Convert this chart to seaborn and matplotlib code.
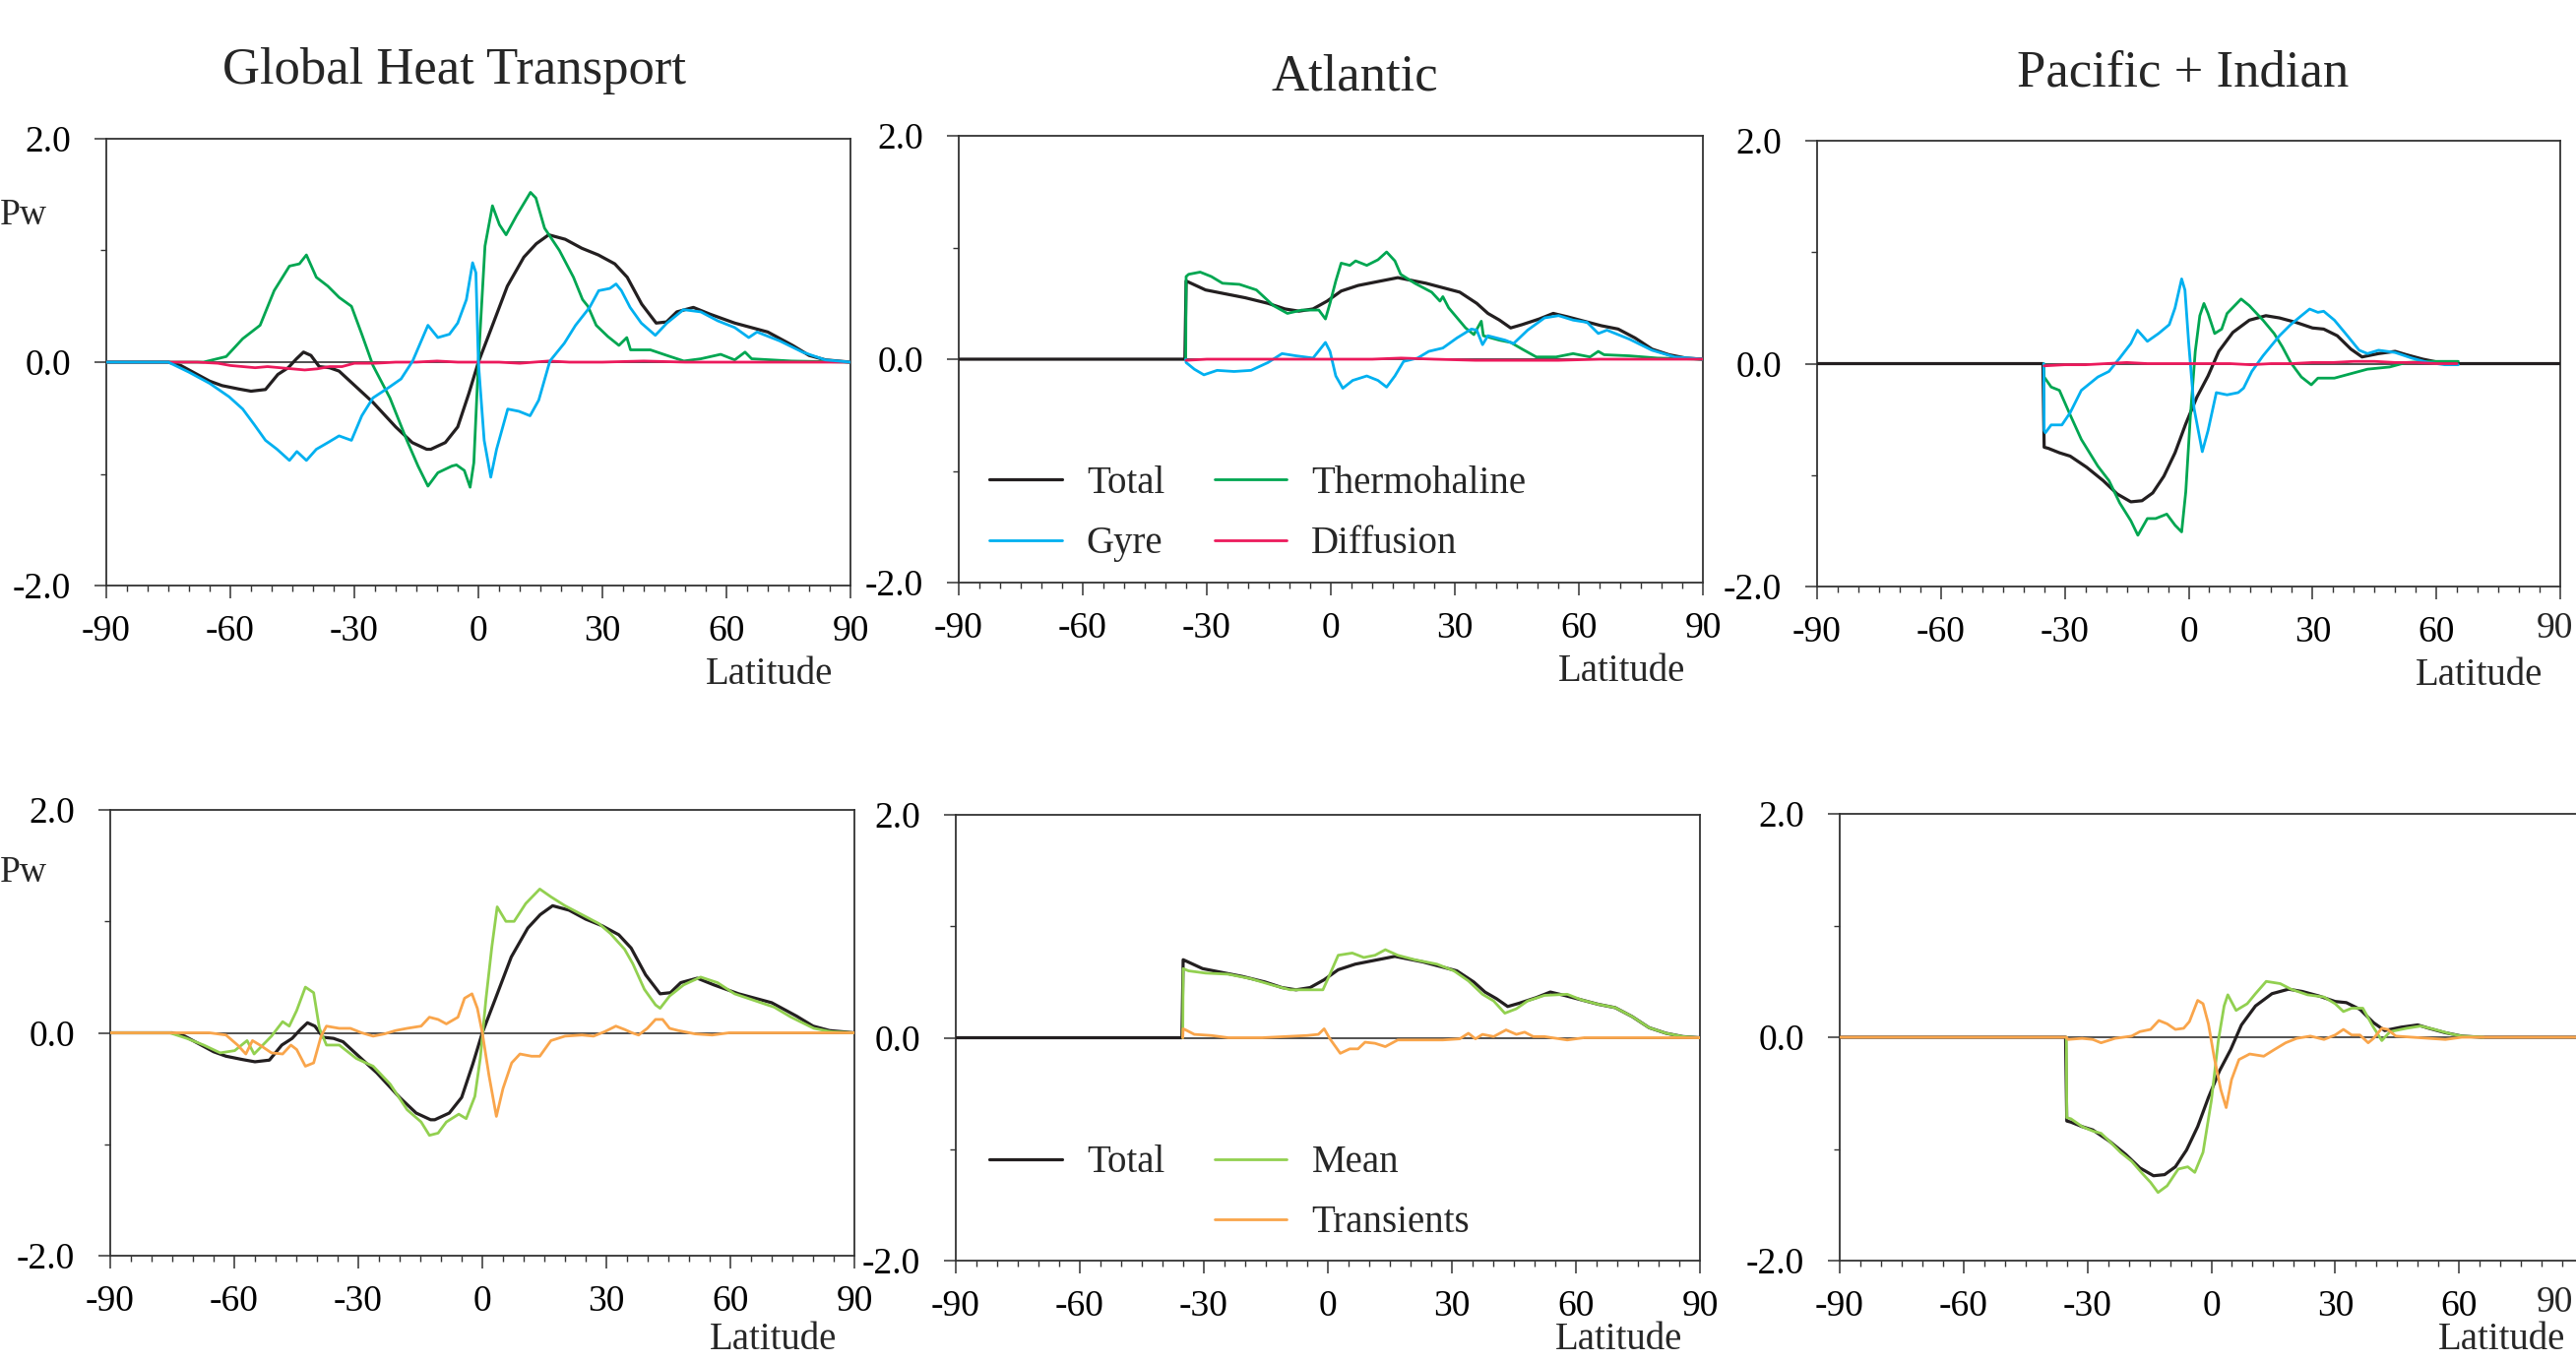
import numpy as np
import pandas as pd
import matplotlib
matplotlib.use('Agg')
import matplotlib.pyplot as plt
import seaborn as sns
from matplotlib.lines import Line2D
from matplotlib.ticker import MultipleLocator

# ---------------- data (PW vs latitude) ----------------
# Global: Total
gt_lat = [-90, -75, -72, -69, -65, -62, -58, -55, -51.5, -48.5, -46, -44, -42.3, -40.5, -38.5, -36, -33.7,
          -29.6, -25.5, -20, -16, -12.5, -11.5, -8, -5, -2.3, 0, 3, 7, 11, 14, 17, 21, 25, 29, 33, 36, 39.5,
          43, 45.5, 48, 52, 56, 62, 66, 70, 76, 80, 84, 90]
gt_val = [0, 0, -0.03, -0.09, -0.17, -0.21, -0.24, -0.26, -0.245, -0.11, -0.05, 0.03, 0.09, 0.06, -0.04,
          -0.05, -0.08, -0.22, -0.36, -0.58, -0.72, -0.78, -0.78, -0.72, -0.58, -0.28, 0, 0.29, 0.68, 0.94,
          1.06, 1.14, 1.10, 1.02, 0.96, 0.88, 0.76, 0.52, 0.35, 0.36, 0.45, 0.49, 0.43, 0.35, 0.31, 0.27,
          0.15, 0.06, 0.02, 0]
# Global: Gyre
gg_lat = [-90, -75, -70, -65, -60.3, -57, -54.2, -51.5, -48.7, -45.7, -43.9, -41.6, -39.2, -36.4, -33.7,
          -30.7, -28.2, -25.5, -21.4, -18.7, -15.9, -12.2, -9.8, -7, -5, -2.9, -1.4, -0.6, 0, 1.4, 3, 4.4,
          7.1, 9.8, 12.5, 14.6, 17.3, 20.8, 23.5, 26.9, 29.1, 31.8, 33.3, 34.6, 36.7, 39.4, 42.8, 45.6,
          49.6, 53.8, 57.9, 62, 65.4, 67.4, 72.9, 78.4, 83.9, 90]
gg_val = [0, 0, -0.09, -0.19, -0.31, -0.42, -0.56, -0.70, -0.78, -0.88, -0.80, -0.88, -0.78, -0.72, -0.66,
          -0.70, -0.48, -0.32, -0.22, -0.15, 0.01, 0.33, 0.22, 0.25, 0.35, 0.56, 0.89, 0.80, 0.0, -0.70,
          -1.03, -0.78, -0.42, -0.44, -0.48, -0.34, 0.01, 0.17, 0.33, 0.49, 0.64, 0.66, 0.70, 0.64, 0.49,
          0.35, 0.24, 0.35, 0.47, 0.45, 0.37, 0.31, 0.22, 0.27, 0.19, 0.09, 0.02, 0]
# Global: Thermohaline
gth_lat = [-90, -66.5, -61, -57, -52.8, -49.4, -45.7, -43.3, -41.6, -39.2, -36.4, -33.7, -30.7, -28.2,
           -25.5, -21.4, -17.3, -14.6, -12.2, -9.8, -6.4, -5.3, -3.4, -2, -1.1, 0, 1.6, 3.4, 5.1, 6.7, 9.2,
           12.6, 13.9, 16, 19.6, 23, 25.2, 26.5, 28.5, 31.3, 34, 35.9, 36.8, 41.6, 45.6, 49.7, 53.8, 58.6,
           62, 64.5, 66.1, 75.7, 90]
gth_val = [0, 0, 0.05, 0.21, 0.33, 0.64, 0.86, 0.88, 0.96, 0.76, 0.68, 0.58, 0.50, 0.25, -0.03, -0.32,
           -0.70, -0.93, -1.11, -0.99, -0.93, -0.92, -0.97, -1.12, -0.90, 0.0, 1.04, 1.40, 1.23, 1.14, 1.31,
           1.52, 1.47, 1.20, 1.00, 0.76, 0.56, 0.50, 0.33, 0.23, 0.15, 0.22, 0.11, 0.11, 0.06, 0.01, 0.03,
           0.07, 0.02, 0.09, 0.03, 0.01, 0]
# Global: Diffusion
gd_lat = [-90, -75, -68, -63, -60, -57, -54, -51, -48, -45, -42, -39, -36, -33, -30, -25, -20, -15, -10,
          -5, 0, 5, 10, 17, 22, 30, 40, 50, 60, 70, 80, 90]
gd_val = [0, 0, 0.0, -0.01, -0.03, -0.04, -0.05, -0.04, -0.05, -0.06, -0.07, -0.06, -0.04, -0.04, -0.01,
          -0.01, 0.0, 0.0, 0.01, 0.0, 0.0, 0.0, -0.01, 0.01, 0.0, 0.0, 0.01, 0.0, 0.0, 0.0, 0.0, 0]

# Atlantic: Total
at_lat = [-90, -35.3, -35.0, -34.4, -30.3, -26.2, -20.7, -15.2, -11.1, -7.7, -4.3, -0.9, 2.5, 6.6, 10.7,
          16.2, 18.9, 23, 27.1, 31.2, 35.3, 38, 40.8, 43.5, 46.3, 50.4, 53.8, 57.2, 61.3, 65.4, 69.5, 73.6,
          77.7, 81.8, 85.9, 90]
at_val = [0, 0, 0.70, 0.69, 0.62, 0.59, 0.55, 0.50, 0.45, 0.43, 0.45, 0.52, 0.61, 0.66, 0.69, 0.73, 0.71,
          0.68, 0.64, 0.60, 0.50, 0.41, 0.35, 0.28, 0.31, 0.36, 0.41, 0.38, 0.34, 0.30, 0.27, 0.19, 0.09,
          0.04, 0.01, 0]
# Atlantic: Thermohaline
ath_lat = [-35.1, -35.0, -34.4, -31.6, -28.9, -26.2, -22.1, -18, -13.9, -10.5, -7, -2.9, -1.3, -0.2, 1.2,
           2.5, 4.6, 6, 8.7, 11.4, 13.5, 15.5, 16.9, 20.3, 24.4, 26.4, 27.1, 28.5, 32.6, 34.6, 36.4, 36.9,
           40.8, 43.5, 46.3, 49.7, 54.5, 58.6, 62.7, 64.7, 66.1, 72.2, 79, 90]
ath_val = [0.0, 0.74, 0.76, 0.78, 0.74, 0.68, 0.67, 0.62, 0.48, 0.41, 0.44, 0.44, 0.36, 0.50, 0.70, 0.86,
           0.84, 0.88, 0.84, 0.89, 0.96, 0.88, 0.76, 0.68, 0.60, 0.52, 0.56, 0.46, 0.28, 0.22, 0.34, 0.21,
           0.17, 0.15, 0.09, 0.02, 0.02, 0.05, 0.02, 0.07, 0.04, 0.03, 0.01, 0]
# Atlantic: Gyre
ag_lat = [-35.1, -35.0, -33, -30.7, -27.5, -23.4, -19.3, -15.2, -11.8, -8.4, -4.3, -1.3, -0.2, 1.2, 2.9,
          5.3, 8.7, 11.4, 13.5, 15.5, 17.6, 21, 23.7, 27.1, 30.5, 34, 35.3, 36.7, 38, 42.2, 44.2, 47.6,
          51.7, 55.1, 58.6, 62, 64.7, 66.8, 72.2, 77.7, 83.2, 90]
ag_val = [0, -0.03, -0.09, -0.14, -0.10, -0.11, -0.10, -0.03, 0.05, 0.03, 0.01, 0.15, 0.07, -0.15, -0.26,
          -0.19, -0.15, -0.19, -0.25, -0.15, -0.02, 0.01, 0.07, 0.10, 0.19, 0.27, 0.26, 0.13, 0.21, 0.17,
          0.14, 0.26, 0.37, 0.39, 0.35, 0.33, 0.23, 0.26, 0.18, 0.08, 0.02, 0]
# Atlantic: Diffusion
ad_lat = [-35, -30, -20, -10, 0, 10, 17, 25, 35, 45, 55, 65, 80, 90]
ad_val = [-0.01, 0.0, 0.0, 0.0, 0.0, 0.0, 0.01, 0.0, -0.01, -0.01, -0.01, 0.0, 0.0, 0]

# Pacific + Indian: Total
pt_lat = [-90, -35.3, -35.0, -34, -31.3, -28.7, -24.7, -20.7, -17.3, -14, -11.3, -8.7, -6, -3.3, -0.7, 2,
          4.7, 7.3, 10.7, 14.7, 18.7, 22, 26, 30, 32.7, 36, 39.3, 42, 46, 50, 52.7, 56.7, 60.7, 65.3, 90]
pt_val = [0, 0, -0.75, -0.76, -0.80, -0.83, -0.93, -1.05, -1.17, -1.24, -1.23, -1.16, -1.01, -0.80, -0.54,
          -0.30, -0.11, 0.11, 0.28, 0.39, 0.43, 0.41, 0.37, 0.32, 0.31, 0.25, 0.13, 0.06, 0.09, 0.11, 0.08,
          0.04, 0.01, 0.0, 0]
# Pacific + Indian: Gyre
pg_lat = [-35.1, -35.0, -34.7, -33.3, -30.7, -28.7, -26, -22, -19.3, -16.7, -14, -12.4, -10, -7.3, -4.7,
          -3.3, -1.7, -0.9, 0, 1.3, 3.3, 4.7, 6.7, 9.3, 12, 13.3, 15.3, 18, 22, 24.7, 27.3, 29.3, 31.3,
          32.7, 35.3, 38, 41.3, 43.3, 46, 50, 54, 58, 62, 65.3]
pg_val = [0, -0.60, -0.62, -0.55, -0.55, -0.44, -0.24, -0.12, -0.07, 0.05, 0.18, 0.30, 0.20, 0.27, 0.35,
          0.50, 0.76, 0.66, 0.19, -0.40, -0.79, -0.60, -0.26, -0.28, -0.26, -0.22, -0.07, 0.07, 0.25, 0.35,
          0.43, 0.49, 0.46, 0.47, 0.39, 0.27, 0.12, 0.09, 0.12, 0.10, 0.05, 0.01, -0.01, -0.01]
# Pacific + Indian: Thermohaline
pth_lat = [-35.1, -35.0, -33.3, -31.3, -28.7, -26, -22, -19.3, -16.7, -14, -12.3, -10, -8, -5.3, -3.3,
           -1.7, -0.7, 0.4, 1.6, 2.7, 3.7, 4.7, 6.3, 8, 9.3, 12.7, 14.7, 18, 20.7, 22.7, 24.7, 27.3, 29.7,
           31.3, 35.3, 39.3, 43.3, 48.7, 52.7, 58, 65.3]
pth_val = [0, -0.12, -0.21, -0.24, -0.46, -0.68, -0.92, -1.05, -1.25, -1.41, -1.54, -1.39, -1.39, -1.35,
           -1.45, -1.51, -1.15, -0.48, 0.11, 0.43, 0.54, 0.45, 0.27, 0.31, 0.45, 0.58, 0.52, 0.39, 0.27,
           0.15, 0.01, -0.12, -0.19, -0.13, -0.13, -0.09, -0.05, -0.03, 0.01, 0.02, 0.02]
# Pacific + Indian: Diffusion
pd_lat = [-35, -30, -25, -20, -15, -10, -5, 0, 5, 10, 15, 20, 25, 30, 35, 40, 45, 50, 55, 60, 65]
pd_val = [-0.02, -0.01, -0.01, 0.0, 0.01, 0.0, 0.0, 0.0, 0.0, 0.0, -0.01, 0.0, 0.0, 0.01, 0.01, 0.02,
          0.02, 0.01, 0.01, 0.0, 0.0]

# Global: Mean / Transients
gm_lat = [-90, -75.6, -71.5, -67.4, -63.4, -59.9, -56.9, -55.2, -53.1, -51, -48.3, -46.7, -44.9, -42.8,
          -40.8, -39.4, -37.7, -34.6, -30.5, -26.4, -22.3, -18.2, -14.8, -12.8, -10.7, -8.7, -5.7, -3.9,
          -1.8, -0.5, 0.9, 2.3, 3.6, 5.7, 7.7, 10.5, 13.9, 16.6, 20, 24.1, 28.2, 31, 34.4, 36.4, 39.2,
          41.9, 43, 45.3, 48.7, 52.8, 56.9, 61, 65.8, 70.6, 74.7, 80.2, 84.3, 90]
gm_val = [0, 0, -0.05, -0.11, -0.18, -0.16, -0.07, -0.19, -0.11, -0.03, 0.10, 0.06, 0.20, 0.41, 0.36,
          0.04, -0.11, -0.11, -0.23, -0.30, -0.46, -0.69, -0.80, -0.92, -0.90, -0.80, -0.73, -0.77, -0.57,
          -0.23, 0.31, 0.77, 1.13, 1.00, 1.00, 1.16, 1.29, 1.22, 1.14, 1.06, 0.98, 0.89, 0.75, 0.62, 0.39,
          0.25, 0.22, 0.33, 0.43, 0.50, 0.45, 0.35, 0.29, 0.23, 0.14, 0.04, 0.01, 0]
gtr_lat = [-90, -66, -62, -59.2, -57.2, -55.6, -53.8, -51, -48.3, -46.3, -44.9, -42.8, -40.8, -39, -37.7,
           -34.6, -31.9, -29.2, -26.4, -23.7, -21, -18.2, -14.8, -12.8, -10.7, -8.7, -5.9, -4.3, -2.5,
           -1.2, 0, 1.6, 3.4, 5, 7.1, 9.1, 11.9, 13.9, 16.6, 20, 24.1, 26.9, 29.6, 32.3, 34.4, 36.2, 37.8,
           39.9, 41.9, 43.6, 45.3, 47.4, 51.5, 55.6, 59.7, 90]
gtr_val = [0, 0, -0.02, -0.11, -0.19, -0.07, -0.11, -0.18, -0.19, -0.11, -0.15, -0.30, -0.27, -0.03, 0.06,
           0.04, 0.04, 0.0, -0.03, -0.01, 0.02, 0.04, 0.06, 0.14, 0.12, 0.08, 0.14, 0.31, 0.35, 0.22, 0.0,
           -0.38, -0.75, -0.50, -0.27, -0.19, -0.21, -0.21, -0.07, -0.03, -0.02, -0.03, 0.01, 0.06, 0.03,
           0.0, -0.02, 0.04, 0.12, 0.12, 0.04, 0.02, -0.01, -0.02, 0.0, 0]

# Atlantic: Mean / Transients
am_lat = [-35.1, -35.0, -33.7, -29.6, -24.1, -18.7, -13.2, -9.1, -5, -1.2, 0.5, 2.5, 5.9, 8.7, 11.4, 13.9,
          16.9, 21, 26.4, 30.5, 34, 37.4, 40.1, 42.8, 45.6, 48.3, 52.4, 57.9, 61.3, 65.4, 69.5, 73.6, 77.7,
          81.8, 85.9, 90]
am_val = [0, 0.62, 0.60, 0.58, 0.57, 0.53, 0.47, 0.43, 0.43, 0.43, 0.57, 0.74, 0.76, 0.72, 0.74, 0.79,
          0.74, 0.70, 0.66, 0.60, 0.51, 0.39, 0.33, 0.22, 0.26, 0.33, 0.38, 0.39, 0.34, 0.30, 0.27, 0.19,
          0.09, 0.04, 0.01, 0]
atr_lat = [-35.1, -35.0, -34.4, -32.3, -28.2, -24.1, -15.9, -5, -2.3, -0.9, 0.5, 3, 5.3, 7.3, 9, 11.4,
           13.9, 16.9, 22.3, 27.8, 31.9, 34, 35.7, 37.4, 40.1, 43.1, 45.6, 47.6, 49.7, 52.4, 57.9, 62, 90]
atr_val = [0, 0.08, 0.07, 0.03, 0.02, 0.0, 0.0, 0.02, 0.03, 0.08, -0.01, -0.14, -0.10, -0.10, -0.04,
           -0.05, -0.08, -0.02, -0.02, -0.02, -0.01, 0.04, -0.01, 0.03, 0.01, 0.07, 0.03, 0.05, 0.01, 0.01,
           -0.02, 0.0, 0]

# Pacific + Indian: Mean / Transients
pm_lat = [-35.1, -35.0, -34, -31.3, -28.7, -26.7, -24.7, -22, -19.3, -16.7, -14.7, -12.9, -10.7, -8, -5.7,
          -4, -2, 0, 1.7, 3.1, 4, 6, 8.7, 10.7, 13.3, 16.7, 19.3, 23.3, 27.3, 30, 32, 34, 36.7, 39.1, 41.3,
          43.3, 47.3, 50.7, 54, 58, 60.7, 66]
pm_val = [0, -0.72, -0.73, -0.80, -0.84, -0.86, -0.93, -1.03, -1.11, -1.22, -1.30, -1.39, -1.33, -1.18,
          -1.16, -1.21, -1.03, -0.57, -0.03, 0.28, 0.38, 0.24, 0.30, 0.39, 0.50, 0.48, 0.43, 0.38, 0.36,
          0.30, 0.23, 0.26, 0.26, 0.10, -0.03, 0.05, 0.08, 0.10, 0.07, 0.03, 0.01, 0.0]
ptr_lat = [-90, -35.1, -34.7, -31.3, -28.7, -26.7, -23.3, -19.3, -17.3, -14.7, -12.7, -10.7, -8.7, -6.7,
           -5.3, -3.3, -2, -0.7, 0.7, 2.3, 3.6, 4.9, 6.7, 9.3, 12.7, 15.3, 18, 20.7, 24, 27.3, 30, 32, 34,
           36, 38, 39.3, 41.3, 42.7, 44.7, 48.7, 52.7, 56.7, 60.7, 90]
ptr_val = [0, 0, -0.02, -0.01, -0.02, -0.05, -0.01, 0.01, 0.05, 0.07, 0.15, 0.12, 0.07, 0.08, 0.14, 0.33,
           0.30, 0.12, -0.18, -0.47, -0.63, -0.38, -0.20, -0.15, -0.17, -0.11, -0.05, -0.01, 0.01, -0.02,
           0.02, 0.07, 0.02, 0.02, -0.05, -0.01, 0.08, 0.07, 0.01, 0.0, -0.01, -0.02, 0.0, 0]

titles = ['Global Heat Transport', 'Atlantic', 'Pacific + Indian']
x_ticks = [-90, -60, -30, 0, 30, 60, 90]
x_ticklabels = ['-90', '-60', '-30', '0', '30', '60', '90']
y_ticks = [-2, 0, 2]
y_ticklabels = ['-2.0', '0.0', '2.0']

# ---------------- styling ----------------
C_TOTAL = '#231f20'
C_THERMO = '#00a651'
C_GYRE = '#00b0f0'
C_DIFF = '#ec1a5c'
C_MEAN = '#92d050'
C_TRANS = '#f9a54b'

sns.set_style('ticks')
plt.rcParams['font.family'] = ['Liberation Serif', 'DejaVu Serif']

W, H = 2617, 1383
fig = plt.figure(figsize=(W / 100, H / 100), dpi=100)


def add_axes(l, t, r, b):
    return fig.add_axes([l / W, 1 - b / H, (r - l) / W, (b - t) / H])


def draw(ax, lat, val, color, lw, z):
    df = pd.DataFrame({'lat': lat, 'val': val})
    sns.lineplot(data=df, x='lat', y='val', ax=ax, color=color, lw=lw,
                 estimator=None, sort=False, zorder=z)


def style(ax, bottom_row=False, edge_label=False):
    ax.set_xlim(-90, 90)
    ax.set_ylim(-2, 2)
    ax.set_xticks(x_ticks)
    labels = list(x_ticklabels)
    if edge_label:
        labels[-1] = ''
    ax.set_xticklabels(labels)
    ax.xaxis.set_minor_locator(MultipleLocator(5))
    ax.set_yticks(y_ticks)
    ax.set_yticklabels(y_ticklabels)
    ax.yaxis.set_minor_locator(MultipleLocator(1))
    ax.tick_params(which='major', direction='out', length=9, width=1.1,
                   labelsize=27, color='#333333', labelcolor='black')
    ax.tick_params(axis='x', which='major', pad=12)
    ax.tick_params(axis='y', which='major', pad=17)
    ax.tick_params(which='minor', direction='out', length=4.3, width=1.0, color='#333333')
    ax.set_xlabel('')
    ax.set_ylabel('')
    for s in ax.spines.values():
        s.set_visible(True)
        s.set_color('#333333')
        s.set_linewidth(1.3)
    ax.axhline(0, color='#333333', lw=1.2, zorder=1)
    pos = ax.get_position()
    if edge_label:
        # last tick label moved just inside the figure edge
        fig.text(0.999, pos.y0 - 43 / H, x_ticklabels[-1], ha='right', va='center', fontsize=27)
    if bottom_row:
        fig.text(pos.x0 + 0.977 * pos.width, 3 / H, 'Latitude', ha='right', va='bottom', fontsize=28)
    else:
        ax.text(0.977, -0.2, 'Latitude', transform=ax.transAxes, ha='right',
                va='center', fontsize=28)


ax1 = add_axes(108, 141, 864, 595)
ax2 = add_axes(974, 138, 1730, 592)
ax3 = add_axes(1846, 143, 2601, 596)
ax4 = add_axes(112, 823, 868, 1276)
ax5 = add_axes(971, 828, 1727, 1281)
ax6 = add_axes(1869, 827, 2624, 1281)

LW_K, LW_C = 2.3, 2.0

# top row
draw(ax1, gt_lat, gt_val, C_TOTAL, LW_K, 3)
draw(ax1, gth_lat, gth_val, C_THERMO, LW_C, 4)
draw(ax1, gd_lat, gd_val, C_DIFF, LW_C, 5)
draw(ax1, gg_lat, gg_val, C_GYRE, LW_C, 6)

draw(ax2, at_lat, at_val, C_TOTAL, LW_K, 3)
draw(ax2, ath_lat, ath_val, C_THERMO, LW_C, 4)
draw(ax2, ag_lat, ag_val, C_GYRE, LW_C, 5)
draw(ax2, ad_lat, ad_val, C_DIFF, LW_C, 6)

draw(ax3, pt_lat, pt_val, C_TOTAL, LW_K, 3)
draw(ax3, pth_lat, pth_val, C_THERMO, LW_C, 4)
draw(ax3, pg_lat, pg_val, C_GYRE, LW_C, 5)
draw(ax3, pd_lat, pd_val, C_DIFF, LW_C, 6)

# bottom row
draw(ax4, gt_lat, gt_val, C_TOTAL, LW_K, 3)
draw(ax4, gm_lat, gm_val, C_MEAN, LW_C, 4)
draw(ax4, gtr_lat, gtr_val, C_TRANS, LW_C, 5)

draw(ax5, at_lat, at_val, C_TOTAL, LW_K, 3)
draw(ax5, am_lat, am_val, C_MEAN, LW_C, 4)
draw(ax5, atr_lat, atr_val, C_TRANS, LW_C, 5)

draw(ax6, pt_lat, pt_val, C_TOTAL, LW_K, 3)
draw(ax6, pm_lat, pm_val, C_MEAN, LW_C, 4)
draw(ax6, ptr_lat, ptr_val, C_TRANS, LW_C, 5)

style(ax1)
style(ax2)
style(ax3, edge_label=True)
style(ax4, bottom_row=True)
style(ax5, bottom_row=True)
style(ax6, bottom_row=True, edge_label=True)

# legends
leg_kw = dict(ncol=2, loc='upper left', frameon=False, fontsize=28, handlelength=1.9,
              handletextpad=0.64, columnspacing=1.3, labelspacing=0.62,
              borderaxespad=0, borderpad=0)
h2 = [Line2D([], [], color=C_TOTAL, lw=LW_K), Line2D([], [], color=C_GYRE, lw=LW_C),
      Line2D([], [], color=C_THERMO, lw=LW_C), Line2D([], [], color=C_DIFF, lw=LW_C)]
ax2.legend(h2, ['Total', 'Gyre', 'Thermohaline', 'Diffusion'],
           bbox_to_anchor=(0.041, 0.262), **leg_kw)
h5 = [Line2D([], [], color=C_TOTAL, lw=LW_K), Line2D([], [], color='none', lw=0),
      Line2D([], [], color=C_MEAN, lw=LW_C), Line2D([], [], color=C_TRANS, lw=LW_C)]
ax5.legend(h5, ['Total', '', 'Mean', 'Transients'],
           bbox_to_anchor=(0.045, 0.26), **leg_kw)

# titles and unit labels
fig.text(461 / W, 1 - 85 / H, titles[0], ha='center', va='baseline', fontsize=38)
fig.text(1376 / W, 1 - 92 / H, titles[1], ha='center', va='baseline', fontsize=38)
fig.text(2218 / W, 1 - 87 / H, titles[2], ha='center', va='baseline', fontsize=38)
fig.text(0.0, 1 - 219 / H, 'Pw', ha='left', va='center', fontsize=27)
fig.text(0.0, 1 - 887 / H, 'Pw', ha='left', va='center', fontsize=27)

fig.savefig('out.png', dpi=100)
